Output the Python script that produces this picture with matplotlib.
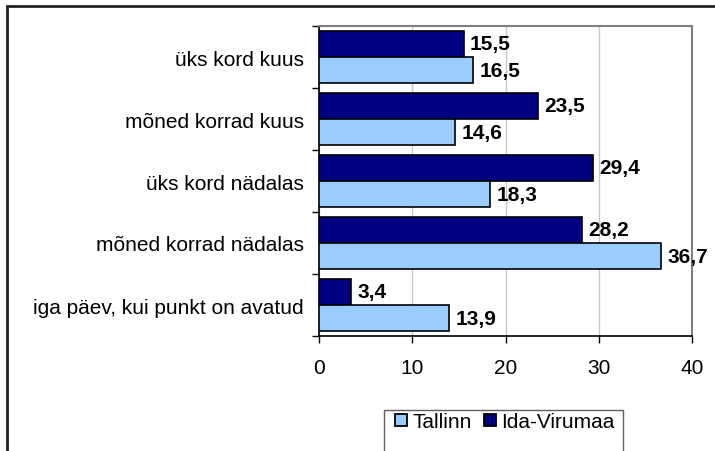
import numpy as np
import matplotlib
matplotlib.use('Agg')
import matplotlib.pyplot as plt
from matplotlib.patches import Rectangle
from matplotlib.lines import Line2D

plt.rcParams['font.family'] = ['Liberation Sans', 'DejaVu Sans']

categories = ['üks kord kuus', 'mõned korrad kuus', 'üks kord nädalas',
              'mõned korrad nädalas', 'iga päev, kui punkt on avatud']
tallinn = [16.5, 14.6, 18.3, 36.7, 13.9]
ida_virumaa = [15.5, 23.5, 29.4, 28.2, 3.4]
series_names = ['Tallinn', 'Ida-Virumaa']
xticks = [0, 10, 20, 30, 40]

light = '#99CCFF'
dark = '#000080'

fig = plt.figure(figsize=(7.15, 4.52), dpi=100)
ax = fig.add_axes([319 / 715, 1 - 337 / 452, (692 - 319) / 715, (337 - 27) / 452])

n = len(categories)
pos = np.arange(n)  # 0 at top after inversion
h = 0.42
ax.barh(pos - h / 2, ida_virumaa, height=h, color=dark, edgecolor='black', linewidth=1.2, zorder=3)
ax.barh(pos + h / 2, tallinn, height=h, color=light, edgecolor='black', linewidth=1.2, zorder=3)

for i in range(n):
    ax.text(ida_virumaa[i] + 0.7, pos[i] - h / 2, f'{ida_virumaa[i]:.1f}'.replace('.', ','),
            va='center', ha='left', fontsize=15, fontweight='bold')
    ax.text(tallinn[i] + 0.7, pos[i] + h / 2, f'{tallinn[i]:.1f}'.replace('.', ','),
            va='center', ha='left', fontsize=15, fontweight='bold')

ax.set_xlim(0, 40)
ax.set_ylim(n - 0.5, -0.5)
ax.set_xticks(xticks)
ax.set_xticklabels([str(t) for t in xticks], fontsize=15)
ax.tick_params(axis='x', direction='out', length=5, width=1, pad=11)

ax.set_yticks(pos)
ax.set_yticklabels(categories, fontsize=15)
ax.set_yticks(np.arange(n + 1) - 0.5, minor=True)
ax.tick_params(axis='y', which='major', length=0, pad=11)
ax.tick_params(axis='y', which='minor', direction='out', length=5, width=1)

ax.grid(axis='x', color='#c8c8c8', linewidth=1, zorder=0)
for s in ['top', 'right']:
    ax.spines[s].set_color('#808080')
    ax.spines[s].set_linewidth(1.5)
for s in ['left', 'bottom']:
    ax.spines[s].set_color('black')
    ax.spines[s].set_linewidth(1.2)

# outer chart border (cut off at right and bottom)
fig.patches.append(Rectangle((7 / 715, -0.2), 1.3, 1.2 - 7 / 452, transform=fig.transFigure,
                             fill=False, edgecolor='#222222', linewidth=2, clip_on=False))

# legend frame (extends past the bottom edge)
fig.patches.append(Rectangle((384 / 715, -0.1), (623 - 384) / 715, 0.1 + 1 - 411 / 452,
                             transform=fig.transFigure, fill=False, edgecolor='#606060',
                             linewidth=1, clip_on=False))
handles = [Line2D([], [], marker='s', linestyle='none', markersize=8.5,
                  markerfacecolor=c, markeredgecolor='black', markeredgewidth=1.3)
           for c in [light, dark]]
fig.legend(handles, series_names, loc='center', bbox_to_anchor=(503 / 715, 1 - 423 / 452),
           ncol=2, frameon=False, fontsize=15, handletextpad=0.1, columnspacing=0.4,
           handlelength=0.9, borderpad=0)

fig.savefig('out.png', dpi=100)
